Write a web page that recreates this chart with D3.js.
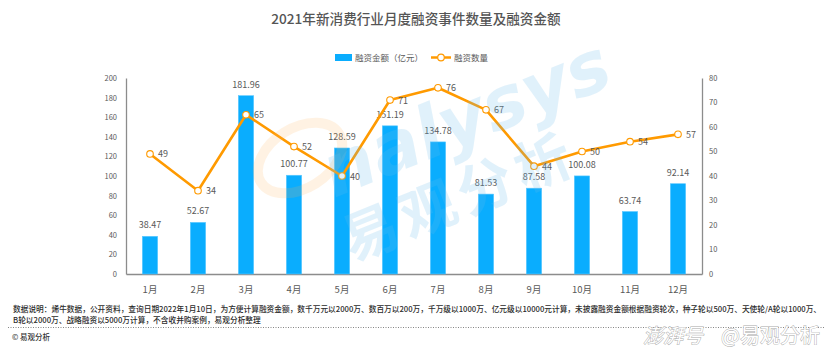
<!DOCTYPE html>
<html><head><meta charset="utf-8">
<script src="https://cdn.jsdelivr.net/npm/d3@7"></script>
<style>
html,body{margin:0;padding:0;background:#fff;}
svg{display:block;font-family:"Noto Sans CJK SC","Noto Sans",sans-serif;}
</style></head>
<body>
<svg id="c" width="831" height="355"></svg>
<script>
const months = ["1月","2月","3月","4月","5月","6月","7月","8月","9月","10月","11月","12月"];
const amounts = [38.47,52.67,181.96,100.77,128.59,151.19,134.78,81.53,87.58,100.08,63.74,92.14];
const counts = [49,34,65,52,40,71,76,67,44,50,54,57];
const leftTicks = [0,20,40,60,80,100,120,140,160,180,200];
const rightTicks = [0,10,20,30,40,50,60,70,80];
const title = "2021年新消费行业月度融资事件数量及融资金额";
const legendLabels = ["融资金额（亿元）","融资数量"];
const notes = ["数据说明：烯牛数据，公开资料，查询日期2022年1月10日，为方便计算融资金额，数千万元以2000万、数百万以200万，千万级以1000万、亿元级以10000元计算，未披露融资金额根据融资轮次，种子轮以500万、天使轮/A轮以1000万、",
"B轮以2000万、战略融资以5000万计算，不含收并购案例，易观分析整理"];

const svg = d3.select("#c");
const L = 126, R = 702, T = 78, B = 274;
const x = d3.scaleBand().domain(months).range([L,R]).paddingInner(0.68).paddingOuter(0.34);
const yL = d3.scaleLinear().domain([0,200]).range([B,T]);
const yR = d3.scaleLinear().domain([0,80]).range([B,T]);
const textCol = "#595959";

// title
svg.append("text").attr("x",416).attr("y",24).attr("text-anchor","middle")
  .attr("font-size",13.6).attr("font-weight",500).attr("fill","#555").text(title);

// legend
svg.append("rect").attr("x",335).attr("y",54).attr("width",17).attr("height",7).attr("fill","#0aadfe");
svg.append("text").attr("x",355).attr("y",61).attr("font-size",8.5).attr("fill",textCol).text(legendLabels[0]);
svg.append("line").attr("x1",431).attr("x2",451).attr("y1",57.5).attr("y2",57.5).attr("stroke","#ff9a00").attr("stroke-width",2.5);
svg.append("circle").attr("cx",441).attr("cy",57.5).attr("r",3.3).attr("fill","#fff").attr("stroke","#ff9a00").attr("stroke-width",1.2);
svg.append("text").attr("x",454).attr("y",61).attr("font-size",8.5).attr("fill",textCol).text(legendLabels[1]);

// axes
const axL = svg.append("g").attr("transform",`translate(${L},0)`).call(d3.axisLeft(yL).tickValues(leftTicks).tickSize(0).tickPadding(9));
const axR = svg.append("g").attr("transform",`translate(${R},0)`).call(d3.axisRight(yR).tickValues(rightTicks).tickSize(0).tickPadding(7));
const axB = svg.append("g").attr("transform",`translate(0,${B})`).call(d3.axisBottom(x).tickSize(0).tickPadding(12));
[axL,axR,axB].forEach(a=>{
  a.select(".domain").attr("stroke","#8c8c8c").attr("stroke-width",1.3);
  a.selectAll("text").attr("fill",textCol).attr("font-family","'Noto Sans CJK SC',sans-serif");
});
axL.selectAll("text").attr("font-size",7.5);
axR.selectAll("text").attr("font-size",7.5);
axB.selectAll("text").attr("font-size",9.5);

// bars
svg.append("g").selectAll("rect").data(amounts).join("rect")
  .attr("x",(d,i)=>x(months[i])).attr("width",x.bandwidth())
  .attr("y",d=>yL(d)).attr("height",d=>B-yL(d))
  .attr("fill","#0aadfe").attr("stroke","#5ec8ff").attr("stroke-width",0.6);
svg.append("g").selectAll("text").data(amounts).join("text")
  .attr("x",(d,i)=>x(months[i])+x.bandwidth()/2).attr("y",d=>yL(d)-8)
  .attr("text-anchor","middle").attr("font-size",9).attr("fill",textCol)
  .text(d=>d.toFixed(2));

// line
const cx = i => x(months[i])+x.bandwidth()/2;
svg.append("path").datum(counts)
  .attr("d",d3.line().x((d,i)=>cx(i)).y(d=>yR(d)))
  .attr("fill","none").attr("stroke","#ff9a00").attr("stroke-width",2.6).attr("stroke-linejoin","round");
svg.append("g").selectAll("circle").data(counts).join("circle")
  .attr("cx",(d,i)=>cx(i)).attr("cy",d=>yR(d)).attr("r",3.3)
  .attr("fill","#fff").attr("stroke","#ff9a00").attr("stroke-width",1.1);
svg.append("g").selectAll("text").data(counts).join("text")
  .attr("x",(d,i)=>cx(i)+8).attr("y",d=>yR(d)+3.5)
  .attr("font-size",9).attr("fill",textCol).text(d=>d);

// watermark
const wm = svg.append("g").attr("pointer-events","none");
wm.append("ellipse").attr("cx",300).attr("cy",158).attr("rx",46).attr("ry",30)
  .attr("transform","rotate(-32,300,158)").attr("fill","none").attr("stroke","#ffb45a").attr("stroke-width",10).attr("opacity",0.17);
wm.append("text").attr("x",334).attr("y",198).attr("transform","rotate(-22,334,198)")
  .attr("font-size",72).attr("font-style","italic").attr("font-weight","bold").attr("font-family","'DejaVu Sans',sans-serif")
  .attr("fill","#6bbcec").attr("opacity",0.2).text("nalysys");
wm.append("text").attr("x",352).attr("y",262).attr("transform","rotate(-22,352,262)")
  .attr("font-size",56).attr("font-weight","bold").attr("letter-spacing",6)
  .attr("fill","#6bbcec").attr("opacity",0.2).text("易观分析");

// notes
svg.append("text").attr("x",13).attr("y",312).attr("font-size",7.7).attr("font-weight",500).attr("fill","#2b2b2b").text(notes[0]);
svg.append("text").attr("x",13).attr("y",323).attr("font-size",7.7).attr("font-weight",500).attr("fill","#2b2b2b").text(notes[1]);
svg.append("line").attr("x1",8).attr("x2",824).attr("y1",327.5).attr("y2",327.5)
  .attr("stroke","#666").attr("stroke-width",0.8).attr("stroke-dasharray","1,1.5");
svg.append("text").attr("x",12).attr("y",340).attr("font-size",7.5).attr("font-weight",500).attr("fill","#333").text("© 易观分析");

// bottom-right source watermark
svg.append("text").attr("x",643).attr("y",343)
  .attr("font-size",20).attr("font-style","italic").attr("fill","#fff")
  .attr("stroke","#aaa").attr("stroke-width",0.9).attr("paint-order","stroke")
  .text("澎湃号");
svg.append("text").attr("x",820).attr("y",343).attr("text-anchor","end")
  .attr("font-size",20).attr("fill","#fff")
  .attr("stroke","#aaa").attr("stroke-width",0.9).attr("paint-order","stroke")
  .text("@易观分析");
</script>
</body></html>
